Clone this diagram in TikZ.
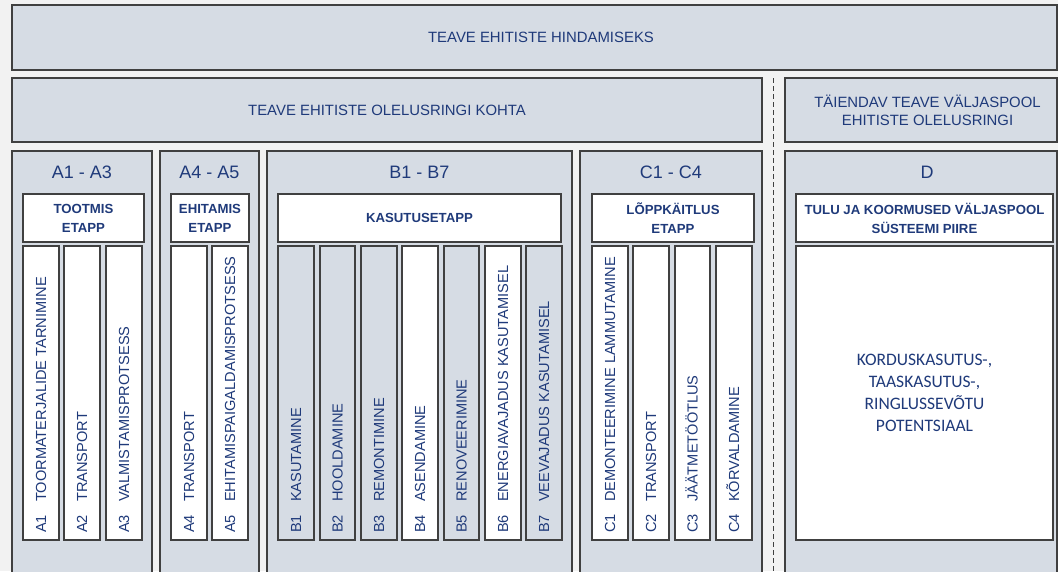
\documentclass[tikz,border=0pt]{standalone}
\usepackage{fontspec}
\setmainfont{Liberation Sans}
\newfontfamily\calib{Carlito}
\definecolor{bgc}{HTML}{F2F2F2}
\definecolor{boxc}{HTML}{D6DCE4}
\definecolor{linec}{HTML}{404040}
\definecolor{txtc}{HTML}{1F3A7A}
\newcommand\rbox[6]{%
  \node[#1, anchor=north west, minimum width={(#5-#3)*1pt}, minimum height={(#6-#4)*1pt}] (#2) at (#3,#4) {};}
\tikzset{
  graybox/.style={draw=linec, fill=boxc, line width=1.4pt, inner sep=0pt, outer sep=0pt},
  whitebox/.style={draw=linec, fill=white, line width=1.4pt, inner sep=0pt, outer sep=0pt},
  maintxt/.style={text=txtc, font=\fontsize{14.9}{18}\selectfont, align=center, inner sep=0pt},
  rangetxt/.style={text=txtc, font=\fontsize{18}{20}\selectfont, inner sep=0pt},
  headtxt/.style={text=txtc, font=\bfseries\fontsize{13.2}{19}\selectfont, align=center, inner sep=0pt},
  vlab/.style={text=txtc, font=\fontsize{14.6}{16}\selectfont, rotate=90, anchor=west, inner sep=0pt, text height=10.4pt, text depth=0pt},
  dtxt/.style={text=txtc, font=\calib\fontsize{17.5}{22}\selectfont, align=center, inner sep=0pt},
  sepline/.style={draw=linec, line width=0.9pt, dash pattern=on 5pt off 3pt}
}
\newcommand\vl[3]{\node[vlab] (#1t) at ([yshift=7pt]#1.south) {\makebox[31pt][l]{#2}#3};}
\begin{document}
\begin{tikzpicture}[x=1pt,y=-1pt]
\useasboundingbox (0,0) rectangle (1058,571);
\fill[bgc] (0,0) rectangle (1058,571);
\clip (0,0) rectangle (1058,571);
% top rows
\rbox{graybox}{top}{12}{5}{1057}{70}
\node[maintxt] (toptxt) at (541,37) {TEAVE EHITISTE HINDAMISEKS};
\rbox{graybox}{life}{12}{78}{762}{142}
\node[maintxt] (lifetxt) at (life.center) {TEAVE EHITISTE OLELUSRINGI KOHTA};
\rbox{graybox}{extra}{785}{78}{1057}{142}
\node[maintxt] (extratxt) at (927.5,110) {TÄIENDAV TEAVE VÄLJASPOOL\\EHITISTE OLELUSRINGI};
% separator
\coordinate (sepa) at (773.5,78);
\coordinate (sepb) at (773.5,580);
\draw[sepline] (sepa) -- (sepb);
% panels
\rbox{graybox}{pA}{12}{151}{152}{600}
\rbox{graybox}{pAA}{160}{151}{259}{600}
\rbox{graybox}{pB}{267}{151}{572}{600}
\rbox{graybox}{pC}{580}{151}{762}{600}
\rbox{graybox}{pD}{785}{151}{1057}{600}
\node[rangetxt] (rA) at (82,172) {A1 - A3};
\node[rangetxt] (rAA) at (209.5,172) {A4 - A5};
\node[rangetxt] (rB) at (419.5,172) {B1 - B7};
\node[rangetxt] (rC) at (671,172) {C1 - C4};
\node[rangetxt] (rD) at (927,172) {D};
% stage headers
\rbox{whitebox}{hA}{23}{194}{144}{242}
\node[headtxt] (hAt) at (hA.center) {TOOTMIS\\ETAPP};
\rbox{whitebox}{hAA}{171}{194}{249}{242}
\node[headtxt] (hAAt) at (hAA.center) {EHITAMIS\\ETAPP};
\rbox{whitebox}{hB}{278}{194}{561}{242}
\node[headtxt] (hBt) at (hB.center) {KASUTUSETAPP};
\rbox{whitebox}{hC}{592}{194}{754}{242}
\node[headtxt] (hCt) at (hC.center) {LÕPPKÄITLUS\\ETAPP};
\rbox{whitebox}{hD}{796}{194}{1053}{242}
\node[headtxt] (hDt) at (hD.center) {TULU JA KOORMUSED VÄLJASPOOL\\SÜSTEEMI PIIRE};
% columns
\rbox{whitebox}{A1}{23}{246}{59}{540}
\rbox{whitebox}{A2}{64}{246}{100}{540}
\rbox{whitebox}{A3}{106}{246}{142}{540}
\rbox{whitebox}{A4}{171}{246}{207}{540}
\rbox{whitebox}{A5}{212}{246}{248}{540}
\rbox{graybox}{B1}{278}{246}{314}{540}
\rbox{graybox}{B2}{320}{246}{355}{540}
\rbox{graybox}{B3}{361}{246}{397}{540}
\rbox{whitebox}{B4}{402}{246}{438}{540}
\rbox{graybox}{B5}{444}{246}{479}{540}
\rbox{whitebox}{B6}{485}{246}{521}{540}
\rbox{graybox}{B7}{526}{246}{562}{540}
\rbox{whitebox}{C1}{592}{246}{628}{540}
\rbox{whitebox}{C2}{633}{246}{669}{540}
\rbox{whitebox}{C3}{675}{246}{710}{540}
\rbox{whitebox}{C4}{716}{246}{752}{540}
\rbox{whitebox}{Dbox}{796}{246}{1053}{540}
\vl{A1}{A1}{TOORMATERJALIDE TARNIMINE}
\vl{A2}{A2}{TRANSPORT}
\vl{A3}{A3}{VALMISTAMISPROTSESS}
\vl{A4}{A4}{TRANSPORT}
\vl{A5}{A5}{EHITAMISPAIGALDAMISPROTSESS}
\vl{B1}{B1}{KASUTAMINE}
\vl{B2}{B2}{HOOLDAMINE}
\vl{B3}{B3}{REMONTIMINE}
\vl{B4}{B4}{ASENDAMINE}
\vl{B5}{B5}{RENOVEERIMINE}
\vl{B6}{B6}{ENERGIAVAJADUS KASUTAMISEL}
\vl{B7}{B7}{VEEVAJADUS KASUTAMISEL}
\vl{C1}{C1}{DEMONTEERIMINE LAMMUTAMINE}
\vl{C2}{C2}{TRANSPORT}
\vl{C3}{C3}{JÄÄTMETÖÖTLUS}
\vl{C4}{C4}{KÕRVALDAMINE}
\node[dtxt] (Dt) at (Dbox.center) {KORDUSKASUTUS-,\\TAASKASUTUS-,\\RINGLUSSEVÕTU\\POTENTSIAAL};
\end{tikzpicture}
\end{document}
